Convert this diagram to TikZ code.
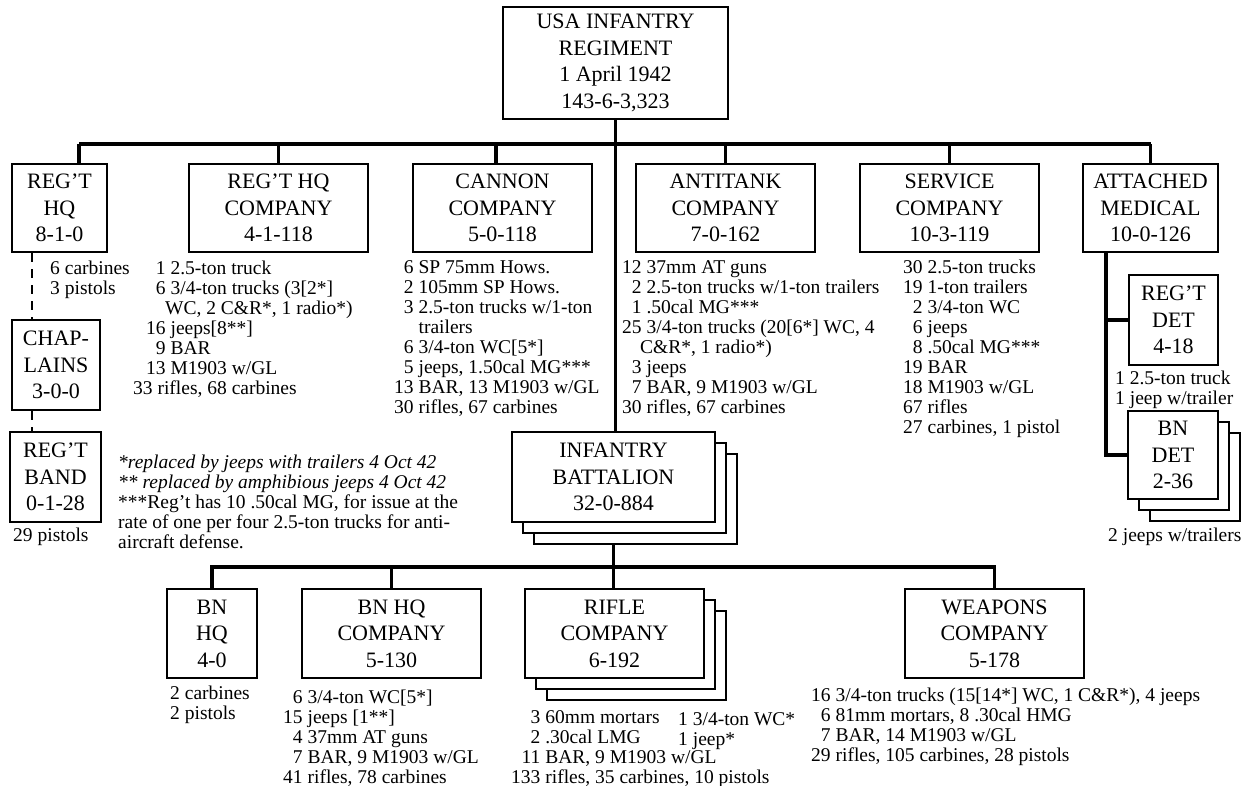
\documentclass[tikz,border=0pt]{standalone}
\usepackage{fontspec}
\setmainfont{Liberation Serif}
\usepackage{array}
\newcommand{\bxfont}{\fontsize{22}{26.5}\selectfont}
\newcommand{\lsfont}{\fontsize{19.5}{20}\selectfont}
\newcommand{\lsttab}[1]{\begin{tabular}{@{}r@{\hspace{4.9pt}}l@{}}#1\end{tabular}}
\newcommand{\spanl}[2]{\multicolumn{2}{@{}l@{}}{\hspace*{#1pt}#2}}
\tikzset{
  box/.style={draw, line width=2.8pt, fill=white, inner sep=0pt, align=center, font=\bxfont},
  conn/.style={line width=3.4pt},
  dashline/.style={line width=2.6pt, dash pattern=on 9pt off 7pt},
  lst/.style={anchor=north west, inner sep=0pt, font=\lsfont},
}
\begin{document}
\begin{tikzpicture}[x=1pt,y=-1pt]
\fill[white] (0,0) rectangle (1250,786);
\useasboundingbox (0,0) rectangle (1250,786);

% ---- boxes ----
\node[box, minimum width=225, minimum height=112] (reg) at (615.5,63) {USA INFANTRY\\REGIMENT\\1 April 1942\\143-6-3,323};

\node[box, minimum width=95,  minimum height=88] (reghq) at (59.5,208) {REG’T\\HQ\\8-1-0};
\node[box, minimum width=179, minimum height=88] (hqco) at (278.5,208) {REG’T HQ\\COMPANY\\4-1-118};
\node[box, minimum width=179, minimum height=88] (cannon) at (502.5,208) {CANNON\\COMPANY\\5-0-118};
\node[box, minimum width=179, minimum height=88] (atk) at (725.5,208) {ANTITANK\\COMPANY\\7-0-162};
\node[box, minimum width=179, minimum height=88] (svc) at (949.5,208) {SERVICE\\COMPANY\\10-3-119};
\node[box, minimum width=135, minimum height=88] (med) at (1150.5,208) {ATTACHED\\MEDICAL\\10-0-126};

\node[box, minimum width=88, minimum height=90] (chap) at (56,365) {CHAP-\\LAINS\\3-0-0};
\node[box, minimum width=91, minimum height=90] (band) at (55.5,477) {REG’T\\BAND\\0-1-28};

\node[box, minimum width=89, minimum height=90] (regdet) at (1173.5,320) {REG’T\\DET\\4-18};
\node[box, minimum width=90, minimum height=88] (bndet-s2) at (1195,477) {};
\node[box, minimum width=90, minimum height=88] (bndet-s1) at (1184,466) {};
\node[box, minimum width=90, minimum height=88] (bndet) at (1173,455) {BN\\DET\\2-36};

\node[box, minimum width=203, minimum height=90] (inf-s2) at (635.5,499) {};
\node[box, minimum width=203, minimum height=90] (inf-s1) at (624.5,488) {};
\node[box, minimum width=203, minimum height=90] (inf) at (613.5,477) {INFANTRY\\BATTALION\\32-0-884};

\node[box, minimum width=90,  minimum height=89] (bnhq) at (212,633.5) {BN\\HQ\\4-0};
\node[box, minimum width=179, minimum height=89] (bnhqco) at (391.5,633.5) {BN HQ\\COMPANY\\5-130};
\node[box, minimum width=179, minimum height=89] (rifle-s2) at (636.5,655.5) {};
\node[box, minimum width=179, minimum height=89] (rifle-s1) at (625.5,644.5) {};
\node[box, minimum width=179, minimum height=89] (rifle) at (614.5,633.5) {RIFLE\\COMPANY\\6-192};
\node[box, minimum width=179, minimum height=89] (weap) at (994.5,633.5) {WEAPONS\\COMPANY\\5-178};

% ---- connectors ----
\coordinate (b1L) at (79,144);
\coordinate (b1R) at (1150.5,144);
\coordinate (cx) at (496,144);
\draw[conn] (reg.south) -- (reg.south |- b1L);
\draw[conn] (b1L) -- (b1R);
\draw[conn] (b1L) -- (reghq.north -| b1L);
\draw[conn] (hqco.north) -- (hqco.north |- b1L);
\draw[conn] (cx) -- (cannon.north -| cx);
\draw[conn] (atk.north) -- (atk.north |- b1L);
\draw[conn] (svc.north) -- (svc.north |- b1L);
\draw[conn] (med.north) -- (med.north |- b1L);
\draw[conn] (reg.south) -- (reg.south |- inf.north);

\coordinate (dx) at (32,0);
\draw[dashline] (reghq.south -| dx) -- (chap.north -| dx);
\draw[dashline] (chap.south -| dx) -- (band.north -| dx);

\coordinate (mx) at (1106,0);
\draw[conn] (med.south -| mx) |- (bndet.west);
\draw[conn] (regdet.west) -- (regdet.west -| mx);

\coordinate (b2) at (0,567);
\draw[conn] (inf-s2.south -| inf.south) -- (inf.south |- rifle.north);
\draw[conn] (bnhq.north) |- (weap.north |- b2) -- (weap.north);
\draw[conn] (bnhqco.north) -- (bnhqco.north |- b2);

% ---- lists ----
\node[lst] (l-reghq) at (50,260.5) {\lsttab{6 & carbines\\ 3 & pistols}};
\node[lst] (l-hqco) at (146,260.5) {\lsttab{1 & 2.5-ton truck\\
 6 & 3/4-ton trucks (3[2*]\\
 \spanl{19}{WC, 2 C\&R*, 1 radio*)}\\
 16 & jeeps[8**]\\
 9 & BAR\\
 13 & M1903 w/GL\\
 \spanl{-13}{33 rifles, 68 carbines}}};
\node[lst] (l-cannon) at (394,259.5) {\lsttab{6 & SP 75mm Hows.\\
 2 & 105mm SP Hows.\\
 3 & 2.5-ton trucks w/1-ton\\
  & trailers\\
 6 & 3/4-ton WC[5*]\\
 5 & jeeps, 1.50cal MG***\\
 13 & BAR, 13 M1903 w/GL\\
 30 & rifles, 67 carbines}};
\node[lst] (l-atk) at (622,259.5) {\lsttab{12 & 37mm AT guns\\
 2 & 2.5-ton trucks w/1-ton trailers\\
 1 & .50cal MG***\\
 25 & 3/4-ton trucks (20[6*] WC, 4\\
 \spanl{18}{C\&R*, 1 radio*)}\\
 3 & jeeps\\
 7 & BAR, 9 M1903 w/GL\\
 30 & rifles, 67 carbines}};
\node[lst] (l-svc) at (903,259.5) {\lsttab{30 & 2.5-ton trucks\\
 19 & 1-ton trailers\\
 2 & 3/4-ton WC\\
 6 & jeeps\\
 8 & .50cal MG***\\
 19 & BAR\\
 18 & M1903 w/GL\\
 67 & rifles\\
 27 & carbines, 1 pistol}};
\node[lst] (l-regdet) at (1115,370.5) {\lsttab{1 & 2.5-ton truck\\ 1 & jeep w/trailer}};
\node[lst] (l-bndet) at (1108,527.5) {\lsttab{2 & jeeps w/trailers}};
\node[lst] (l-band) at (13,527.5) {\lsttab{29 & pistols}};

\node[lst] (notes) at (118,454.5) {\begin{tabular}{@{}l@{}}
 \itshape *replaced by jeeps with trailers 4 Oct 42\\
 \itshape ** replaced by amphibious jeeps 4 Oct 42\\
 {}***Reg’t has 10 .50cal MG, for issue at the\\
 rate of one per four 2.5-ton trucks for anti-\\
 aircraft defense.
 \end{tabular}};

\node[lst] (l-bnhq) at (170,685.5) {\lsttab{2 & carbines\\ 2 & pistols}};
\node[lst] (l-bnhqco) at (283,689.5) {\lsttab{6 & 3/4-ton WC[5*]\\
 15 & jeeps [1**]\\
 4 & 37mm AT guns\\
 7 & BAR, 9 M1903 w/GL\\
 41 & rifles, 78 carbines}};
\node[lst] (l-rifle) at (511,709.5) {\lsttab{3 & 60mm mortars\\
 2 & .30cal LMG\\
 11 & BAR, 9 M1903 w/GL\\
 133 & rifles, 35 carbines, 10 pistols}};
\node[lst] (l-rifle2) at (678,711.5) {\lsttab{1 & 3/4-ton WC*\\ 1 & jeep*}};
\node[lst] (l-weap) at (811,687.5) {\lsttab{16 & 3/4-ton trucks (15[14*] WC, 1 C\&R*), 4 jeeps\\
 6 & 81mm mortars, 8 .30cal HMG\\
 7 & BAR, 14 M1903 w/GL\\
 29 & rifles, 105 carbines, 28 pistols}};
\end{tikzpicture}
\end{document}
